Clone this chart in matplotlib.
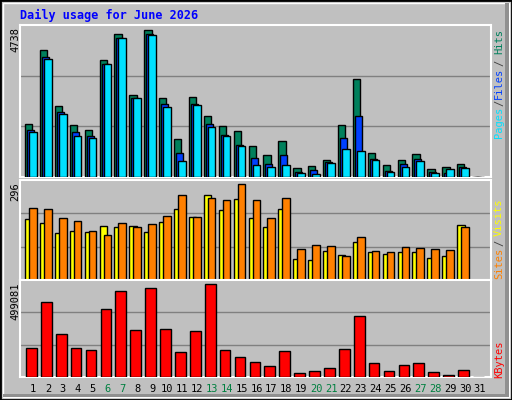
import matplotlib
matplotlib.use("Agg")
import matplotlib.pyplot as plt
from matplotlib.patches import Rectangle
import numpy as np

days = list(range(1, 32))
weekend = [6, 7, 13, 14, 20, 21, 27, 28]
hits = [1715, 4095, 2294, 1683, 1522, 3774, 4610, 2648, 4738, 2551, 1233, 2584, 1973, 1651, 1490, 1008, 718, 1168, 300, 364, 557, 1683, 3162, 783, 397, 557, 750, 268, 332, 429, 0]
files = [1522, 3870, 2101, 1458, 1329, 3645, 4481, 2551, 4610, 2358, 783, 2358, 1715, 1361, 1040, 622, 429, 718, 172, 236, 493, 1265, 1973, 590, 204, 429, 590, 172, 139, 332, 0]
pages = [1458, 3806, 2037, 1329, 1265, 3645, 4481, 2551, 4577, 2262, 525, 2326, 1619, 1329, 1008, 397, 332, 397, 139, 107, 461, 911, 847, 557, 172, 332, 525, 139, 268, 300, 0]
sites = [187, 177, 145, 151, 148, 167, 164, 167, 148, 180, 219, 196, 261, 216, 251, 193, 164, 219, 64, 61, 90, 77, 116, 87, 80, 87, 87, 68, 74, 171, 0]
visits = [222, 219, 190, 183, 151, 138, 177, 164, 174, 199, 261, 196, 254, 248, 296, 248, 193, 254, 97, 109, 106, 74, 132, 90, 87, 103, 100, 97, 93, 164, 0]
kbytes = [153570, 400380, 230360, 153570, 142600, 367470, 460710, 252300, 477170, 257780, 131630, 246810, 499081, 142600, 109690, 82270, 60330, 137120, 21940, 32910, 49360, 148090, 329080, 76790, 32910, 65820, 76790, 27420, 10970, 38390, 0]

BG = "#C0C0C0"
fig = plt.figure(figsize=(5.12, 4.0), dpi=100, facecolor=BG)
W, H = 512, 400
fig.patches.append(Rectangle((0, 0), 1, 1, transform=fig.transFigure, fill=False, ec="black", lw=2))
fig.patches.append(Rectangle((3/W, 3/H), 1-6/W, 1-6/H, transform=fig.transFigure, fill=False, ec="white", lw=1))
fig.patches.append(Rectangle((505/W, 3/H), 4/W, 1-6/H, transform=fig.transFigure, fc="#909090", ec="none"))
fig.patches.append(Rectangle((3/W, 3/H), 1-6/W, 3/H, transform=fig.transFigure, fc="#909090", ec="none"))

def ax_at(x0, y0, x1, y1):
    a = fig.add_axes([x0/W, 1-y1/H, (x1-x0)/W, (y1-y0)/H])
    a.set_facecolor(BG)
    a.set_xlim(1-13/14.9, 31+11/14.9)
    a.set_xticks([]); a.set_yticks([])
    for s in a.spines.values():
        s.set_color("white"); s.set_linewidth(1.5)
    return a

px = 1/14.9
x = np.array(days, dtype=float)
kw = dict(align="edge", edgecolor="black", linewidth=1, zorder=3)

a1 = ax_at(20, 25, 491, 177)
top1 = 4738*456/442
a1.set_ylim(0, top1)
for g in (top1/3, 2*top1/3):
    a1.axhline(g, color="#808080", lw=1, zorder=1)
a1.bar(x-8*px, hits, 7.3*px, color="#00805C", **kw)
a1.bar(x-6*px, files, 7*px, color="#0040FF", **kw)
a1.bar(x-4*px, pages, 7.7*px, color="#00E0FF", **kw)

a2 = ax_at(20, 180, 491, 280)
top2 = 296*288/276
a2.set_ylim(0, top2)
for g in (top2/3, 2*top2/3):
    a2.axhline(g, color="#808080", lw=1, zorder=1)
a2.bar(x-8*px, sites, 7.5*px, color="#FFFF00", **kw)
a2.bar(x-4*px, visits, 7.7*px, color="#FF8000", **kw)

a3 = ax_at(20, 280, 491, 377)
top3 = 499081*285/273
a3.set_ylim(0, top3)
for g in (top3/3, 2*top3/3):
    a3.axhline(g, color="#808080", lw=1, zorder=1)
a3.bar(x-7*px, kbytes, 10.7*px, color="#FF0000", **kw)

mono = "DejaVu Sans Mono"
fig.text(20/W, 1-15/H, "Daily usage for June 2026", color="#0000FF", family=mono,
         weight="bold", fontsize=8.5, va="center", ha="left")

for d in days:
    xc = 20 + 13 + (d-1)*14.9
    fig.text(xc/W, 1-389/H, str(d), color="#008040" if d in weekend else "black",
             family=mono, fontsize=7.5, ha="center", va="center")

fig.text(15/W, 1-27/H, "4738", rotation=90, family=mono, fontsize=7.5, ha="center", va="top")
fig.text(15/W, 1-182/H, "296", rotation=90, family=mono, fontsize=7.5, ha="center", va="top")
fig.text(15/W, 1-282/H, "499081", rotation=90, family=mono, fontsize=7.5, ha="center", va="top")

def rlab(parts):
    for txt, col, yc in parts:
        fig.text(499/W, 1-yc/H, txt, rotation=90, family=mono,
                 fontsize=7.5, color=col, ha="center", va="center")

rlab([("Pages", "#00E0FF", 122), ("/", "#404040", 103), ("Files", "#0040FF", 83),
      ("/", "#404040", 63), ("Hits", "#00805C", 42)])
rlab([("Sites", "#FF8000", 263), ("/", "#404040", 243), ("Visits", "#FFFF00", 217)])
rlab([("KBytes", "#FF0000", 359)])

fig.savefig("out.png", dpi=100, facecolor=BG)
